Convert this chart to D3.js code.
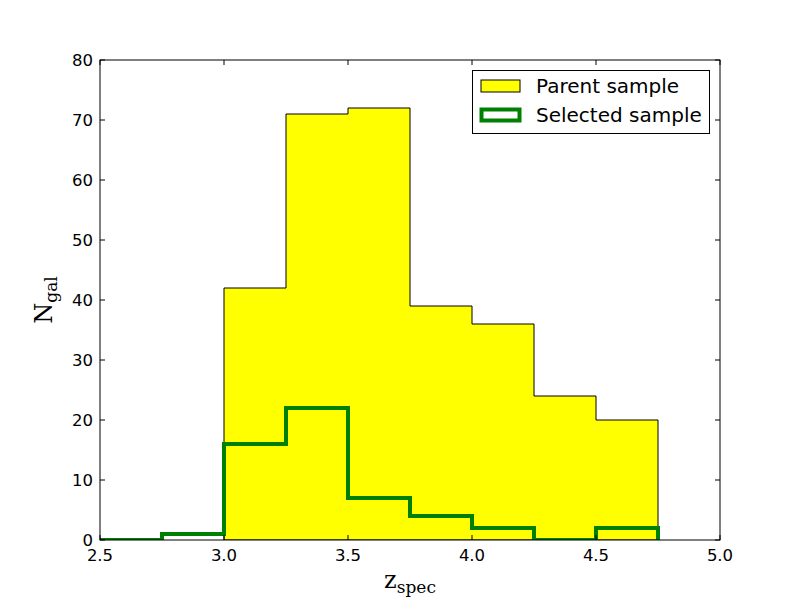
<!DOCTYPE html>
<html>
<head>
<meta charset="utf-8">
<script src="https://cdn.jsdelivr.net/npm/d3@7"></script>
<style>
  body { margin: 0; background: #fff; }
  text { font-family: "DejaVu Sans", sans-serif; }
</style>
</head>
<body>
<script>
// histogram data, bins of 0.25 in z
var parentEdges = [3.0, 3.25, 3.5, 3.75, 4.0, 4.25, 4.5, 4.75];
var parentCounts = [42, 71, 72, 39, 36, 24, 20];
var selEdges = [2.5, 2.75, 3.0, 3.25, 3.5, 3.75, 4.0, 4.25, 4.5, 4.75];
var selCounts = [0, 1, 16, 22, 7, 4, 2, 0, 2];
var xTicks = [2.5, 3.0, 3.5, 4.0, 4.5, 5.0];
var yTicks = [0, 10, 20, 30, 40, 50, 60, 70, 80];
var legendLabels = ["Parent sample", "Selected sample"];

function drawChart() {
  var width = 800, height = 600;
  var pl = 100, pr = 720, pt = 60, pb = 540;

  var svg = d3.select("body").append("svg")
    .attr("width", width)
    .attr("height", height);

  svg.append("rect").attr("width", width).attr("height", height).attr("fill", "white");

  var x = d3.scaleLinear().domain([2.5, 5.0]).range([pl, pr]);
  var y = d3.scaleLinear().domain([0, 80]).range([pb, pt]);

  svg.append("clipPath").attr("id", "clip")
    .append("rect")
    .attr("x", pl).attr("y", pt)
    .attr("width", pr - pl).attr("height", pb - pt);

  function stepPoints(edges, counts) {
    var pts = [[edges[0], 0]];
    counts.forEach(function(c, i) {
      pts.push([edges[i], c]);
      pts.push([edges[i + 1], c]);
    });
    pts.push([edges[edges.length - 1], 0]);
    return pts;
  }

  var line = d3.line().x(function(d) { return x(d[0]); }).y(function(d) { return y(d[1]); });

  var g = svg.append("g").attr("clip-path", "url(#clip)");

  g.append("path")
    .attr("d", line(stepPoints(parentEdges, parentCounts)) + "Z")
    .attr("fill", "#ffff00")
    .attr("stroke", "black")
    .attr("stroke-width", 1);

  g.append("path")
    .attr("d", line(stepPoints(selEdges, selCounts)))
    .attr("fill", "none")
    .attr("stroke", "#008000")
    .attr("stroke-width", 4)
    .attr("stroke-linejoin", "miter");

  // ticks, inside, on all four sides
  var tk = 5;
  xTicks.forEach(function(t) {
    svg.append("line").attr("x1", x(t)).attr("x2", x(t)).attr("y1", pb).attr("y2", pb - tk).attr("stroke", "black");
    svg.append("line").attr("x1", x(t)).attr("x2", x(t)).attr("y1", pt).attr("y2", pt + tk).attr("stroke", "black");
    svg.append("text").attr("x", x(t)).attr("y", pb + 21)
      .attr("text-anchor", "middle").attr("font-size", 16.5)
      .text(t.toFixed(1));
  });
  yTicks.forEach(function(t) {
    svg.append("line").attr("x1", pl).attr("x2", pl + tk).attr("y1", y(t)).attr("y2", y(t)).attr("stroke", "black");
    svg.append("line").attr("x1", pr).attr("x2", pr - tk).attr("y1", y(t)).attr("y2", y(t)).attr("stroke", "black");
    svg.append("text").attr("x", pl - 7).attr("y", y(t)).attr("dy", "0.35em")
      .attr("text-anchor", "end").attr("font-size", 16.5)
      .text(t);
  });

  svg.append("rect")
    .attr("x", pl).attr("y", pt)
    .attr("width", pr - pl).attr("height", pb - pt)
    .attr("fill", "none").attr("stroke", "black").attr("stroke-width", 1);

  // axis labels
  var xl = svg.append("text").attr("x", 410).attr("y", 588)
    .attr("text-anchor", "middle")
    .style("font-family", "'DejaVu Serif', serif")
    .attr("font-size", 24);
  xl.append("tspan").text("z");
  xl.append("tspan").attr("dy", 5).attr("font-size", 17).text("spec");

  var yl = svg.append("text")
    .attr("transform", "translate(52,300) rotate(-90)")
    .attr("text-anchor", "middle")
    .style("font-family", "'DejaVu Serif', serif")
    .attr("font-size", 24);
  yl.append("tspan").text("N");
  yl.append("tspan").attr("dy", 5).attr("font-size", 17).text("gal");

  // legend
  var lg = svg.append("g");
  lg.append("rect").attr("x", 472.5).attr("y", 70.5).attr("width", 237).attr("height", 63)
    .attr("fill", "white").attr("stroke", "black");
  lg.append("rect").attr("x", 481).attr("y", 80).attr("width", 39).attr("height", 12)
    .attr("fill", "#ffff00").attr("stroke", "black");
  lg.append("rect").attr("x", 481.5).attr("y", 109.5).attr("width", 38).attr("height", 11)
    .attr("fill", "white").attr("stroke", "#008000").attr("stroke-width", 4);
  legendLabels.forEach(function(s, i) {
    lg.append("text").attr("x", 536).attr("y", 86 + i * 29).attr("dy", "0.35em")
      .attr("font-size", 20).text(s);
  });
}

drawChart();
</script>
</body>
</html>
